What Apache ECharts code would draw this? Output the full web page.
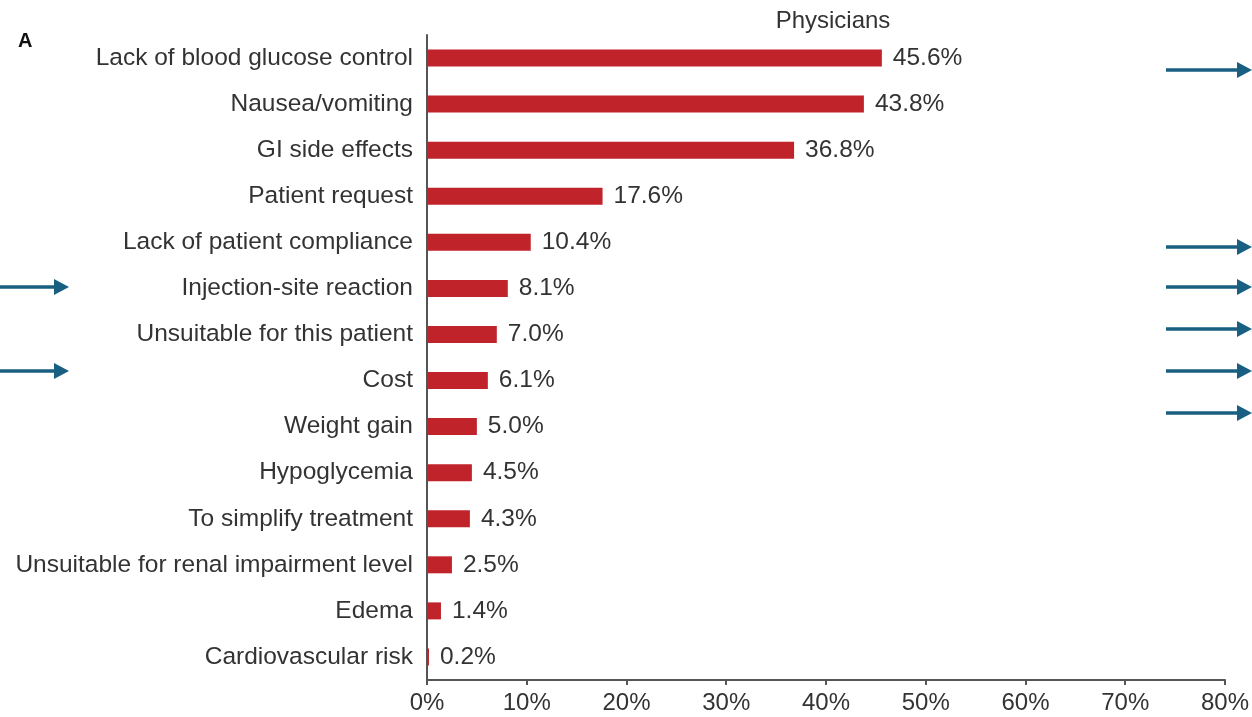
<!DOCTYPE html>
<html>
<head>
<meta charset="utf-8">
<script src="https://cdn.jsdelivr.net/npm/echarts@6/dist/echarts.min.js"></script>
<style>
html,body{margin:0;padding:0;background:#fff;}
#chart{width:1252px;height:717px;}
</style>
</head>
<body>
<div id="chart"></div>
<script>
// Data
const categories = [
  "Lack of blood glucose control",
  "Nausea/vomiting",
  "GI side effects",
  "Patient request",
  "Lack of patient compliance",
  "Injection-site reaction",
  "Unsuitable for this patient",
  "Cost",
  "Weight gain",
  "Hypoglycemia",
  "To simplify treatment",
  "Unsuitable for renal impairment level",
  "Edema",
  "Cardiovascular risk"
];
const values = [45.6, 43.8, 36.8, 17.6, 10.4, 8.1, 7.0, 6.1, 5.0, 4.5, 4.3, 2.5, 1.4, 0.2];
const xTicks = [0, 10, 20, 30, 40, 50, 60, 70, 80];
const titleText = "Physicians";
const panelLabel = "A";

const FONT = "'Liberation Sans', Arial, sans-serif";
const TEXT = "#333";
const ARROW = "#195f82";

function arrow(x1, x2, y) {
  const head = 15, hh = 8;
  return {
    type: 'group',
    children: [
      { type: 'rect', shape: { x: x1, y: y - 1.75, width: x2 - x1 - head + 1, height: 3.5 }, style: { fill: ARROW } },
      { type: 'polygon', shape: { points: [[x2 - head, y - hh], [x2, y], [x2 - head, y + hh]] }, style: { fill: ARROW } }
    ]
  };
}
const rightArrowsY = [70, 247, 287, 329, 371, 413];
const leftArrowsY = [287, 371];
const graphics = [];
rightArrowsY.forEach(y => graphics.push(arrow(1166, 1252, y)));
leftArrowsY.forEach(y => graphics.push(arrow(0, 69, y)));

const chart = echarts.init(document.getElementById('chart'));
chart.setOption({
  animation: false,
  backgroundColor: '#fff',
  title: [
    { text: panelLabel, left: 13, top: 26, textStyle: { fontFamily: FONT, fontSize: 20, fontWeight: 'bold', color: '#111' } },
    { text: titleText, left: 828, top: 4, textAlign: 'center', textStyle: { fontFamily: FONT, fontSize: 24, fontWeight: 'normal', color: TEXT } }
  ],
  grid: { left: 427, right: 23, top: 35, bottom: 37, containLabel: false },
  xAxis: {
    type: 'value',
    min: 0, max: 80, interval: 10,
    axisLine: { show: true, lineStyle: { color: '#555', width: 2 } },
    axisTick: { show: true, length: 5, lineStyle: { color: '#555', width: 2 } },
    splitLine: { show: false },
    axisLabel: { margin: 11, fontFamily: FONT, fontSize: 24, color: TEXT, formatter: v => v + '%' }
  },
  yAxis: {
    type: 'category',
    data: categories,
    inverse: true,
    axisLine: { show: true, lineStyle: { color: '#555', width: 2 } },
    axisTick: { show: false },
    axisLabel: { margin: 14, fontFamily: FONT, fontSize: 24.5, color: TEXT }
  },
  series: [{
    type: 'bar',
    data: values,
    barWidth: 17,
    itemStyle: { color: '#c1232b' },
    label: {
      show: true, position: 'right', distance: 11,
      fontFamily: FONT, fontSize: 24.5, color: TEXT,
      formatter: p => p.value.toFixed(1) + '%'
    }
  }],
  graphic: graphics
});
</script>
</body>
</html>
